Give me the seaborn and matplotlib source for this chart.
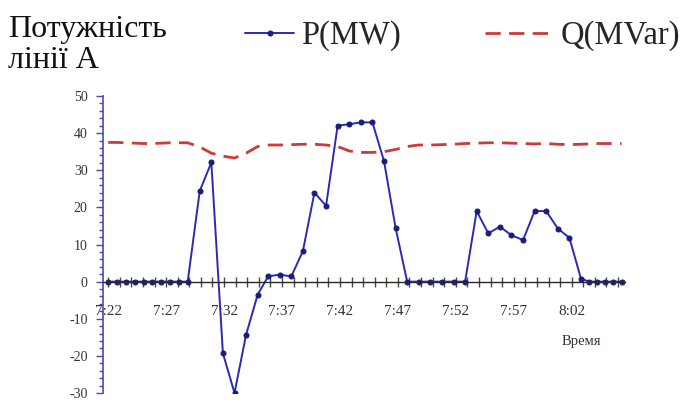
import matplotlib
matplotlib.use("Agg")
import matplotlib.pyplot as plt
from matplotlib.ticker import MultipleLocator, FixedLocator
import seaborn as sns
import pandas as pd

# Sample times in minutes after 7:22
minutes = [0.0, 0.76, 1.52, 2.29, 3.05, 3.81, 4.57, 5.33, 6.1, 6.86,
           7.9, 8.9, 9.9, 10.9, 11.9, 12.9, 13.8, 14.8, 15.8, 16.8,
           17.8, 18.8, 19.8, 20.8, 21.8, 22.8, 23.8, 24.8, 25.8, 26.8,
           27.8, 28.8, 29.8, 30.8, 31.8, 32.8, 33.8, 34.8, 35.8, 36.8,
           37.8, 38.8, 39.8, 40.8, 41.5, 42.2, 42.9, 43.6, 44.3]

# Active power of line A, MW
p_mw = [0, 0, 0, 0, 0, 0, 0, 0, 0, 0,
        24.4, 32.1, -19.3, -30.0, -14.3, -3.5, 1.4, 1.9, 1.4, 8.2,
        24.0, 20.4, 42.0, 42.4, 42.9, 42.9, 32.5, 14.5, 0, 0,
        0, 0, 0, 0, 19.0, 13.0, 14.8, 12.5, 11.2, 19.0,
        19.0, 14.3, 11.8, 0.8, 0, 0, 0, 0, 0]

# Reactive power of line A, MVar
q_mvar = [37.5, 37.5, 37.4, 37.3, 37.2, 37.2, 37.3, 37.4, 37.4, 37.4,
          36.3, 34.6, 33.8, 33.3, 34.6, 36.4, 36.8, 36.8, 36.9, 37.0,
          37.0, 36.8, 36.4, 35.2, 34.8, 34.8, 35.0, 35.6, 36.4, 36.8,
          36.8, 36.9, 37.0, 37.2, 37.3, 37.4, 37.4, 37.3, 37.2, 37.1,
          37.2, 37.0, 36.9, 37.0, 37.1, 37.2, 37.2, 37.2, 37.2]

tick_minutes = [0, 5, 10, 15, 20, 25, 30, 35, 40]
tick_labels = ["7:22", "7:27", "7:32", "7:37", "7:42", "7:47", "7:52", "7:57", "8:02"]

df = pd.DataFrame({"t": minutes, "P": p_mw, "Q": q_mvar})

sns.set_style("white")
plt.rcParams["font.family"] = ["Liberation Serif", "DejaVu Serif"]
plt.rcParams["axes.unicode_minus"] = False

fig = plt.figure(figsize=(6.93, 4.07), dpi=100)
ax = fig.add_axes([0.1486, 0.0344, 0.7533, 0.7297])

p_color = "#2a2ab8"
q_color = "#cc3a3a"

sns.lineplot(data=df, x="t", y="Q", ax=ax, color=q_color, linewidth=2.0,
             linestyle=(0, (5.5, 3.0)), label="Q(MVar)", legend=False)
sns.lineplot(data=df, x="t", y="P", ax=ax, color=p_color, linewidth=1.4,
             marker="o", markersize=3.6, markerfacecolor="#1c1c7a",
             markeredgecolor="#1c1c7a", label="P(MW)", legend=False)

ax.set_xlim(-0.45, 44.6)
ax.set_ylim(-30, 50)

# Axes styling: blue value axis on the left, time axis through zero
for side in ("top", "right"):
    ax.spines[side].set_visible(False)
ax.spines["left"].set_color("#4a4ab0")
ax.spines["left"].set_linewidth(1.2)
ax.spines["bottom"].set_position(("data", 0))
ax.spines["bottom"].set_color("#2a2a2a")
ax.spines["bottom"].set_linewidth(1.0)

ax.yaxis.set_major_locator(MultipleLocator(10))
ax.yaxis.set_minor_locator(MultipleLocator(2))
ax.tick_params(axis="y", which="both", left=True)
ax.tick_params(axis="y", which="major", direction="out", length=5, width=1,
               color="#4a4ab0", labelsize=10, pad=6, labelcolor="#333333")
ax.tick_params(axis="y", which="minor", direction="out", length=3, width=1,
               color="#4a4ab0")

ax.xaxis.set_major_locator(FixedLocator(tick_minutes))
ax.set_xticklabels(tick_labels)
ax.xaxis.set_minor_locator(MultipleLocator(1))
ax.tick_params(axis="x", which="both", bottom=True, direction="inout",
               length=7, width=1, color="#4a4a3a")
ax.tick_params(axis="x", which="major", labelsize=11, pad=13,
               labelcolor="#333333")
ax.set_xlabel("")
ax.set_ylabel("")
ax.grid(False)

fig.text(0.8395, 0.16, "Время", fontsize=10.5, color="#333333",
         ha="center", va="center")

# Heading and legend across the top
fig.text(0.012, 0.962, "Потужність\nлінії А", fontsize=23, ha="left",
         va="top", linespacing=1.08, color="#111111")

h_p = ax.get_lines()[1]
h_q = ax.get_lines()[0]
leg_p = fig.legend(handles=[h_p], labels=["P(MW)"], loc="center left",
                   bbox_to_anchor=(0.354, 0.912), frameon=False, fontsize=23.5,
                   handlelength=1.5, handletextpad=0.2, borderpad=0,
                   borderaxespad=0)
leg_q = fig.legend(handles=[h_q], labels=["Q(MVar)"], loc="center left",
                   bbox_to_anchor=(0.70, 0.912), frameon=False, fontsize=23.5,
                   handlelength=2.1, handletextpad=0.2, borderpad=0,
                   borderaxespad=0)

fig.savefig("out.png", dpi=100)
